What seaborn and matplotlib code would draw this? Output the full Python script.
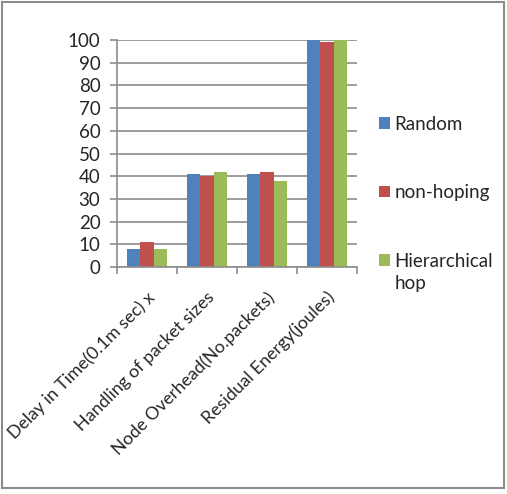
import matplotlib
matplotlib.use("Agg")
import matplotlib.pyplot as plt
import matplotlib.transforms as mtransforms
import seaborn as sns
import pandas as pd
from matplotlib.patches import Rectangle

categories = ["Delay in Time(0.1m sec) x", "Handling of packet sizes",
              "Node Overhead(No.packets)", "Residual Energy(joules)"]
series = ["Random", "non-hoping", "Hierarchical hop"]
random_vals = [8, 41, 41, 100]
nonhoping_vals = [11, 40, 42, 99]
hier_vals = [8, 42, 38, 100]
yticks = [0, 10, 20, 30, 40, 50, 60, 70, 80, 90, 100]
colors = ["#4F81BD", "#C0504D", "#9BBB59"]

rows = []
for s, vals in zip(series, [random_vals, nonhoping_vals, hier_vals]):
    for c, v in zip(categories, vals):
        rows.append({"cat": c, "series": s, "value": v})
df = pd.DataFrame(rows)

sns.set_style("white")
plt.rcParams["font.family"] = ["Lato", "DejaVu Sans"]
FS = 13.5

fig = plt.figure(figsize=(5.07, 4.94), dpi=100)
ax = fig.add_axes([0.231, 0.4595, 0.473, 0.4595])

sns.barplot(data=df, x="cat", y="value", hue="series", order=categories,
            hue_order=series, palette=colors, width=0.67, saturation=1,
            ax=ax, errorbar=None, edgecolor="none")

ax.set_ylim(0, 100)
ax.set_xlim(-0.5, 3.5)
ax.set_yticks(yticks)
ax.set_yticklabels([str(t) for t in yticks], fontsize=FS)
ax.yaxis.grid(True, color="#8c8c8c", linewidth=1.2)
ax.set_axisbelow(True)
ax.set_xlabel("")
ax.set_ylabel("")
for sp in ["top", "right"]:
    ax.spines[sp].set_visible(False)
for sp in ["left", "bottom"]:
    ax.spines[sp].set_color("#8c8c8c")
    ax.spines[sp].set_linewidth(1.2)

ax.tick_params(axis="y", which="major", left=True, length=5, color="#8c8c8c",
               width=1.2, pad=7)
ax.set_xticks(range(len(categories)))
ax.set_xticklabels(categories, rotation=45, ha="right", va="center",
                   rotation_mode="anchor", fontsize=12.8)
ax.tick_params(axis="x", which="major", length=0, pad=20)
ax.set_xticks([-0.5, 0.5, 1.5, 2.5, 3.5], minor=True)
ax.tick_params(axis="x", which="minor", bottom=True, length=5,
               color="#8c8c8c", width=1.2)
shift = mtransforms.ScaledTranslation(5 / 100, 0, fig.dpi_scale_trans)
for lbl in ax.get_xticklabels():
    lbl.set_transform(lbl.get_transform() + shift)

handles, labels = ax.get_legend_handles_labels()
labels = ["Random", "non-hoping", "Hierarchical\nhop"]
leg = ax.legend(handles, labels, loc="upper left", bbox_to_anchor=(1.062, 0.70),
                frameon=False, fontsize=FS, labelspacing=2.75, handlelength=0.55,
                handleheight=0.55, handletextpad=0.25, borderaxespad=0)
leg.get_texts()[2].set_linespacing(1.35)
h = leg.legend_handles[2]
h.set_y(h.get_y() + 9)

fig.patches.append(Rectangle((0.004, 0.012), 0.99, 0.983, transform=fig.transFigure,
                             fill=False, edgecolor="#8c8c8c", linewidth=1.5))

fig.savefig("out.png", dpi=100)
